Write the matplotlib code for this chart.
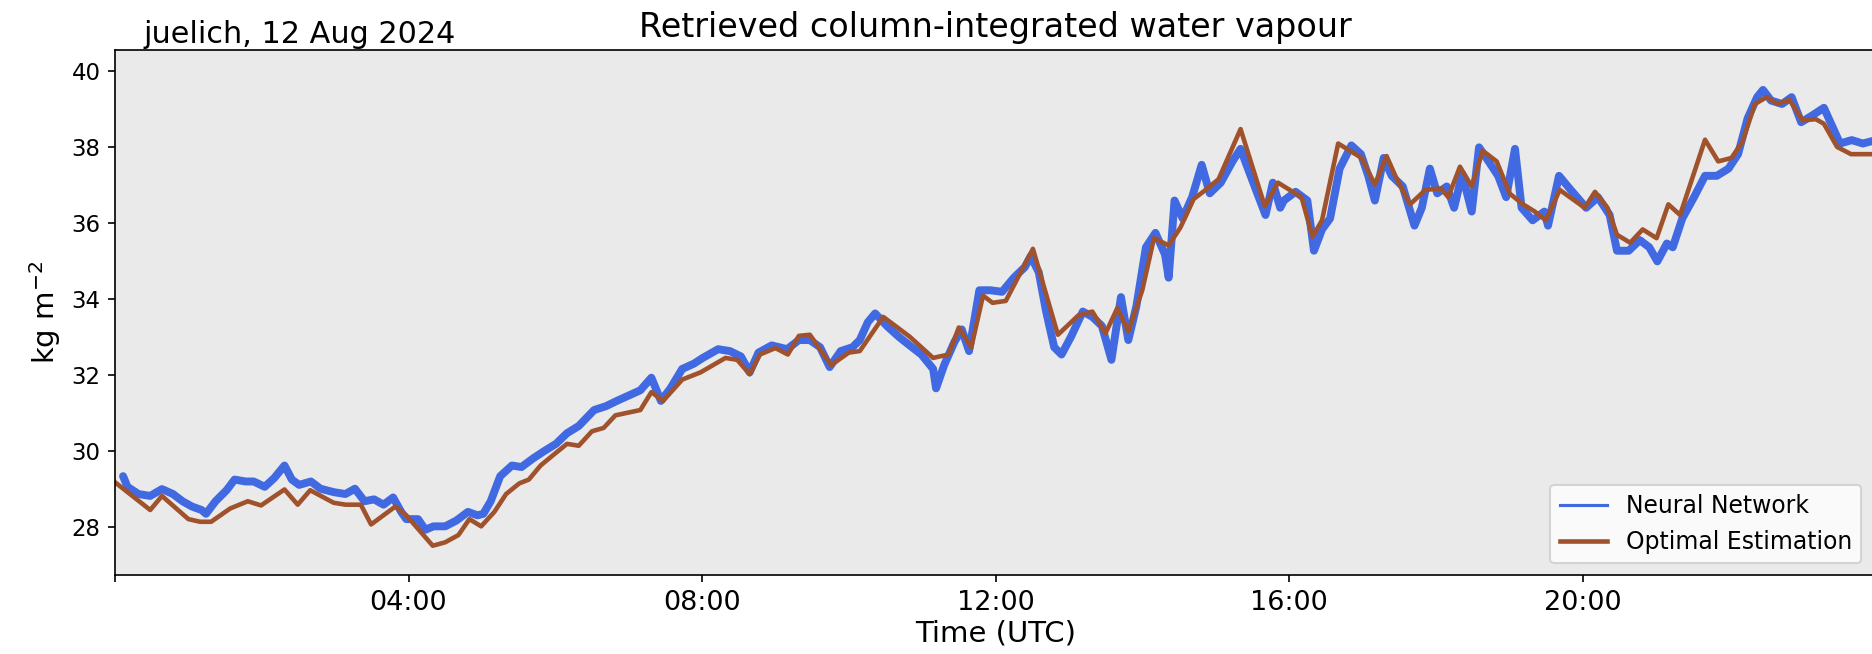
import matplotlib
matplotlib.use("Agg")
import matplotlib.pyplot as plt
from matplotlib.lines import Line2D

# ---- data (hours UTC, kg m-2) ----
oe_hours = [0.0, 0.48, 0.64, 1.0, 1.16, 1.31, 1.57, 1.81, 1.99, 2.31, 2.49, 2.66, 2.98, 3.14, 3.35,
            3.49, 3.82, 3.97, 4.33, 4.50, 4.68, 4.83, 4.99, 5.17, 5.33, 5.51, 5.64, 5.80, 5.95, 6.16,
            6.32, 6.50, 6.66, 6.82, 7.16, 7.31, 7.47, 7.73, 7.98, 8.32, 8.48, 8.65, 8.79, 9.0, 9.17,
            9.32, 9.47, 9.76, 10.0, 10.15, 10.47, 10.83, 11.15, 11.36, 11.50, 11.67, 11.83, 11.96, 12.14,
            12.51, 12.85, 13.13, 13.32, 13.50, 13.66, 13.81, 14.0, 14.16, 14.36, 14.52, 14.70, 14.83,
            15.04, 15.34, 15.67, 15.85, 16.17, 16.32, 16.45, 16.67, 16.99, 17.17, 17.33, 17.47, 17.65,
            17.86, 18.07, 18.17, 18.33, 18.49, 18.64, 18.83, 19.01, 19.19, 19.35, 19.50, 19.69, 20.03,
            20.17, 20.34, 20.47, 20.65, 20.82, 21.01, 21.17, 21.33, 21.67, 21.85, 22.03, 22.18, 22.35,
            22.51, 22.66, 22.82, 23.0, 23.18, 23.29, 23.47, 23.66, 23.83, 23.95]
oe_values = [29.18, 28.45, 28.82, 28.21, 28.14, 28.14, 28.49, 28.68, 28.57, 28.99, 28.59, 28.97, 28.64, 28.59, 28.59,
             28.07, 28.54, 28.31, 27.51, 27.60, 27.79, 28.21, 28.02, 28.40, 28.87, 29.15, 29.25, 29.62, 29.86, 30.19,
             30.14, 30.52, 30.61, 30.94, 31.08, 31.55, 31.32, 31.88, 32.07, 32.45, 32.40, 32.02, 32.54, 32.71, 32.54,
             33.03, 33.06, 32.26, 32.59, 32.63, 33.53, 33.01, 32.45, 32.54, 33.25, 32.73, 34.09, 33.90, 33.95,
             35.32, 33.06, 33.57, 33.67, 33.10, 33.76, 33.15, 34.23, 35.60, 35.41, 35.88, 36.63, 36.82,
             37.15, 38.47, 36.44, 37.06, 36.68, 35.64, 36.07, 38.09, 37.71, 37.01, 37.76, 37.15, 36.49,
             36.87, 36.91, 36.68, 37.48, 36.96, 37.90, 37.62, 36.77, 36.49, 36.30, 36.07, 36.87, 36.40,
             36.82, 36.40, 35.69, 35.48, 35.83, 35.60, 36.49, 36.21, 38.19, 37.62, 37.71, 38.14, 39.13,
             39.31, 39.13, 39.24, 38.70, 38.73, 38.61, 38.00, 37.81, 37.81, 37.81]

nn_hours = [0.11, 0.17, 0.32, 0.48, 0.64, 0.79, 0.92, 1.05, 1.18, 1.24, 1.37, 1.52, 1.63, 1.78, 1.89,
            2.04, 2.17, 2.31, 2.41, 2.51, 2.67, 2.80, 2.98, 3.14, 3.27, 3.40, 3.53, 3.66, 3.79, 3.90,
            3.97, 4.13, 4.23, 4.34, 4.50, 4.65, 4.81, 4.94, 5.02, 5.12, 5.25, 5.41, 5.54, 5.70, 5.85,
            6.01, 6.16, 6.32, 6.53, 6.69, 6.84, 7.0, 7.16, 7.31, 7.44, 7.57, 7.73, 7.89, 8.01, 8.22,
            8.38, 8.53, 8.65, 8.77, 8.95, 9.16, 9.32, 9.47, 9.61, 9.74, 9.89, 10.05, 10.15, 10.26,
            10.36, 10.52, 10.68, 10.83, 10.99, 11.15, 11.19, 11.30, 11.44, 11.54, 11.64, 11.78, 11.93,
            12.09, 12.25, 12.40, 12.48, 12.59, 12.69, 12.80, 12.90, 13.03, 13.19, 13.32, 13.45, 13.58,
            13.71, 13.81, 13.92, 14.05, 14.18, 14.31, 14.36, 14.44, 14.55, 14.68, 14.81, 14.92, 15.07,
            15.23, 15.34, 15.44, 15.55, 15.68, 15.78, 15.88, 15.93, 16.09, 16.25, 16.34, 16.45, 16.56,
            16.69, 16.85, 16.98, 17.08, 17.17, 17.29, 17.40, 17.55, 17.71, 17.81, 17.92, 18.02, 18.15,
            18.25, 18.36, 18.49, 18.59, 18.72, 18.85, 18.96, 19.08, 19.17, 19.32, 19.48, 19.53, 19.68,
            19.84, 20.05, 20.21, 20.37, 20.47, 20.63, 20.78, 20.91, 21.02, 21.15, 21.23, 21.36, 21.52,
            21.67, 21.83, 21.99, 22.12, 22.25, 22.38, 22.46, 22.57, 22.72, 22.85, 22.98, 23.14, 23.29,
            23.40, 23.51, 23.67, 23.82, 24.0]
nn_values = [29.34, 29.06, 28.87, 28.82, 29.00, 28.87, 28.68, 28.54, 28.45, 28.35, 28.68, 28.97, 29.25, 29.20, 29.20,
             29.06, 29.29, 29.62, 29.25, 29.11, 29.20, 29.01, 28.92, 28.87, 29.01, 28.68, 28.73, 28.59, 28.78, 28.40,
             28.21, 28.21, 27.93, 28.02, 28.02, 28.17, 28.40, 28.31, 28.35, 28.68, 29.34, 29.62, 29.58, 29.81, 30.00,
             30.19, 30.47, 30.66, 31.08, 31.18, 31.32, 31.46, 31.60, 31.93, 31.32, 31.65, 32.16, 32.30, 32.45, 32.68,
             32.63, 32.49, 32.07, 32.59, 32.78, 32.68, 32.92, 32.92, 32.73, 32.21, 32.63, 32.73, 32.92, 33.39,
             33.62, 33.29, 33.01, 32.78, 32.54, 32.16, 31.65, 32.26, 32.87, 33.20, 32.63, 34.23, 34.23,
             34.19, 34.56, 34.84, 35.13, 34.70, 33.67, 32.73, 32.54, 33.01, 33.67, 33.53, 33.29, 32.40,
             34.05, 32.92, 33.81, 35.36, 35.74, 35.17, 34.56, 36.59, 36.12, 36.68, 37.53, 36.78, 37.06,
             37.62, 37.95, 37.43, 36.87, 36.21, 37.06, 36.40, 36.59, 36.82, 36.59, 35.27, 35.83, 36.12,
             37.43, 38.04, 37.81, 37.24, 36.59, 37.71, 37.24, 36.96, 35.93, 36.40, 37.43, 36.78, 36.96,
             36.40, 37.29, 36.30, 37.99, 37.62, 37.24, 36.68, 37.95, 36.40, 36.07, 36.30, 35.93, 37.24,
             36.87, 36.40, 36.68, 36.21, 35.27, 35.27, 35.55, 35.36, 34.99, 35.46, 35.36, 36.12, 36.68,
             37.24, 37.24, 37.43, 37.81, 38.75, 39.31, 39.50, 39.22, 39.13, 39.31, 38.65, 38.84, 39.03,
             38.56, 38.09, 38.18, 38.09, 38.18]

tick_hours = [0, 4, 8, 12, 16, 20, 24]
tick_labels = ['', '04:00', '08:00', '12:00', '16:00', '20:00', '']
ytick_values = [28, 30, 32, 34, 36, 38, 40]

# ---- figure ----
fig = plt.figure(figsize=(12.48, 4.36), dpi=150)
ax = fig.add_axes([115/1872, 1 - 575/654, (1876 - 115)/1872, 525/654])
ax.set_facecolor('#eaeaea')

ax.plot(nn_hours, nn_values, color='royalblue', lw=3.8,
        solid_joinstyle='round', solid_capstyle='round')
ax.plot(oe_hours, oe_values, color='sienna', lw=2.2)

ax.set_xlim(0, 24)
ax.set_ylim(26.74, 40.55)
ax.set_xticks(tick_hours)
ax.set_xticklabels(tick_labels, fontsize=13)
ax.set_yticks(ytick_values)
ax.set_yticklabels([str(v) for v in ytick_values], fontsize=11)
ax.set_xlabel('Time (UTC)', fontsize=14, labelpad=2)
ax.set_ylabel('kg m$^{-2}$', fontsize=14)
ax.set_title('Retrieved column-integrated water vapour', fontsize=16)
ax.text(0.016, 1.013, 'juelich, 12 Aug 2024', transform=ax.transAxes,
        fontsize=14.5, va='baseline', ha='left')
ax.spines['right'].set_visible(False)

handles = [Line2D([], [], color='royalblue', lw=1.5),
           Line2D([], [], color='sienna', lw=2.2)]
ax.legend(handles, ['Neural Network', 'Optimal Estimation'], loc='lower right', fontsize=11.3,
          bbox_to_anchor=(1873/1876, 0), bbox_transform=ax.transAxes)

fig.savefig('out.png', dpi=150)
